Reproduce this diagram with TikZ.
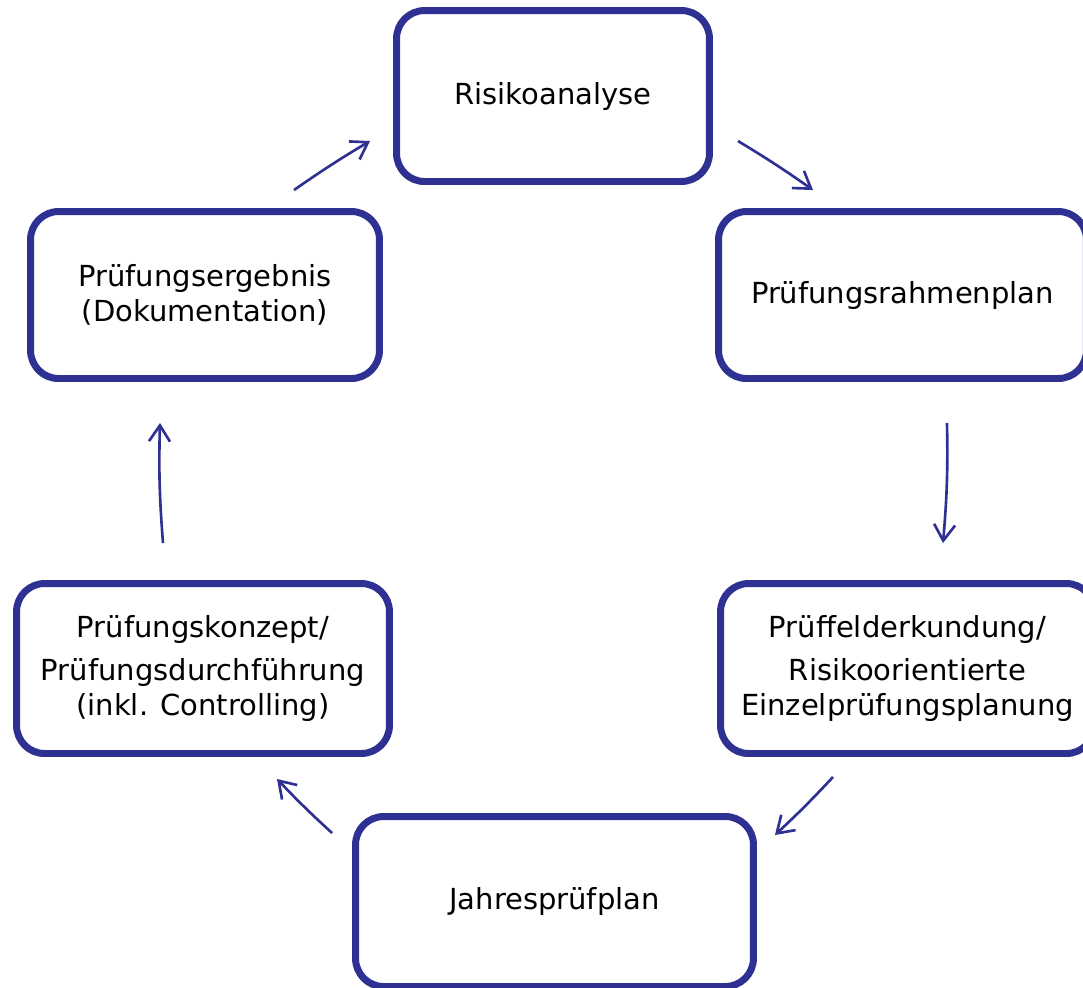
\documentclass[tikz,border=0pt]{standalone}
\usepackage{fontspec}
\setmainfont{DejaVu Sans}
\usepackage{tikz}
\usetikzlibrary{%
  arrows.meta,%
  shadows,% wg. drop shadow
  calc,%
  positioning%
}
\definecolor{boxblue}{RGB}{46,49,146}

\begin{document}
\begin{tikzpicture}
[x=0.02cm, y=-0.02cm, line width=1.5pt,
stage/.style={rectangle, draw=boxblue, line width=3.97pt, fill=white, rounded corners=16pt,
  align=center, inner sep=0pt, font=\fontsize{16.5}{19.5}\selectfont,
  drop shadow={shadow xshift=-1pt, shadow yshift=-1.8pt, fill=black!60, opacity=0.7}},
flow/.style={draw=boxblue, line width=1.5pt, -{Straight Barb[length=3.2mm, width=4.2mm, line width=1.5pt]}}]

\useasboundingbox (0,0) rectangle (1083,988);

\node[stage, minimum width=6.26cm, minimum height=3.42cm] (risk) at (553,96) {Risikoanalyse};
\node[stage, minimum width=7.36cm, minimum height=3.34cm] (rahmen) at (902.5,295) {Prüfungsrahmenplan};
\node[stage, minimum width=7.48cm, minimum height=3.40cm] (feld) at (907.5,668.5) {Prüffelderkundung/\\[5pt]Risikoorientierte\\Einzelprüfungsplanung};
\node[stage, minimum width=7.96cm, minimum height=3.40cm] (jahr) at (554.5,901.5) {Jahresprüfplan};
\node[stage, minimum width=7.46cm, minimum height=3.40cm] (konz) at (203,668.5) {Prüfungskonzept/\\[5pt]Prüfungsdurchführung\\(inkl. Controlling)};
\node[stage, minimum width=6.98cm, minimum height=3.34cm] (erg) at (205,295) {Prüfungsergebnis\\(Dokumentation)};

\draw[flow] ($(erg.north)+(89,-18)$) to[bend left=2] ($(risk.west)+(-23,45)$);
\draw[flow] ($(risk.east)+(25,45)$) to[bend left=2] ($(rahmen.north)+(-89.5,-18)$);
\draw[flow] ($(rahmen.south)+(44.5,41)$) to[bend left=3] ($(feld.north)+(35.5,-37)$);
\draw[flow] ($(feld.south)+(-74.5,20)$) to[bend left=2] ($(jahr.east)+(18,-66.5)$);
\draw[flow] ($(jahr.west)+(-20,-68.5)$) to[bend left=2] ($(konz.south)+(74,22)$);
\draw[flow] ($(konz.north)+(-40,-37)$) to[bend left=3] ($(erg.south)+(-45,41)$);

\end{tikzpicture}
\end{document}
